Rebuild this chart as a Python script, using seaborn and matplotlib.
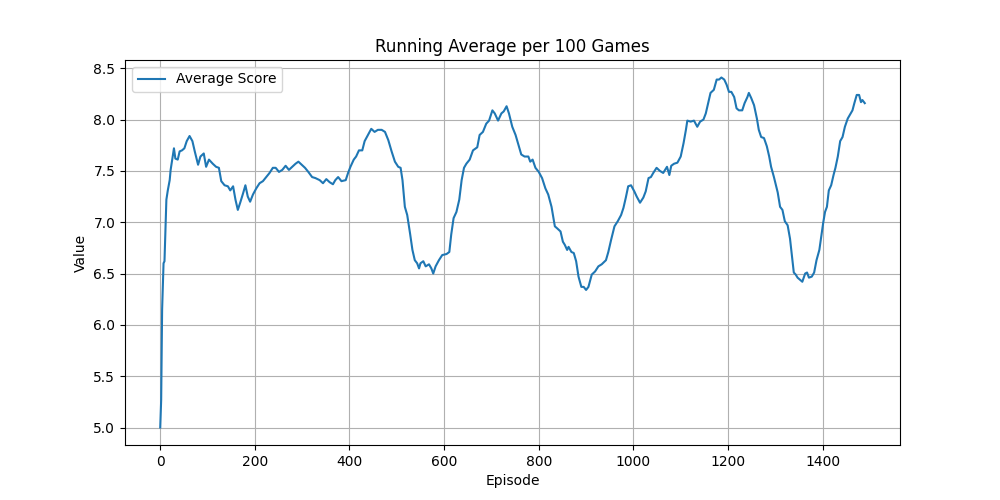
import matplotlib
matplotlib.use("Agg")
import matplotlib.pyplot as plt
import seaborn as sns
import pandas as pd

# running average values
episodes = [
    0, 2, 4, 7, 9, 13, 16, 20, 22, 25, 29, 32, 37, 41, 46, 51, 56, 62, 68, 73,
    80, 85, 92, 97, 103, 111, 118, 124, 129, 136, 143, 148, 154, 159, 164, 169,
    175, 180, 185, 190, 196, 203, 210, 217, 224, 231, 238, 244, 251, 258, 265,
    272, 279, 286, 292, 299, 306, 313, 321, 328, 337, 344, 351, 358, 365, 370,
    376, 383, 392, 397, 402, 409, 414, 420, 427, 432, 439, 446, 453, 460, 468,
    475, 482, 489, 496, 503, 508, 512, 517, 522, 528, 533, 538, 543, 547, 550,
    556, 561, 568, 573, 577, 582, 589, 596, 605, 611, 615, 620, 626, 632, 637,
    642, 647, 654, 661, 670, 675, 682, 689, 695, 702, 707, 714, 721, 726, 732,
    737, 744, 751, 758, 763, 770, 778, 782, 787, 793, 800, 807, 814, 820, 827,
    834, 839, 846, 851, 855, 860, 863, 869, 874, 879, 884, 890, 895, 900, 905,
    912, 919, 926, 933, 942, 947, 953, 960, 967, 974, 979, 984, 989, 995, 1002,
    1007, 1014, 1021, 1026, 1032, 1037, 1042, 1049, 1056, 1063, 1071, 1076,
    1080, 1086, 1093, 1100, 1106, 1111, 1114, 1121, 1128, 1135, 1141, 1148,
    1153, 1158, 1163, 1170, 1176, 1181, 1186, 1192, 1197, 1202, 1207, 1213,
    1218, 1223, 1230, 1235, 1241, 1244, 1249, 1255, 1261, 1265, 1270, 1276,
    1282, 1287, 1291, 1297, 1305, 1310, 1315, 1320, 1326, 1331, 1335, 1339,
    1343, 1347, 1352, 1357, 1363, 1367, 1371, 1377, 1382, 1387, 1393, 1396,
    1401, 1405, 1409, 1413, 1418, 1423, 1427, 1432, 1437, 1442, 1447, 1453,
    1458, 1463, 1467, 1472, 1477, 1481, 1484, 1489,
]
avg_score = [
    5.00, 5.27, 6.15, 6.60, 6.62, 7.22, 7.31, 7.41, 7.51, 7.60, 7.72, 7.62,
    7.61, 7.69, 7.70, 7.72, 7.79, 7.84, 7.79, 7.69, 7.56, 7.64, 7.67, 7.54,
    7.61, 7.57, 7.54, 7.53, 7.40, 7.36, 7.35, 7.31, 7.35, 7.22, 7.12, 7.19,
    7.28, 7.36, 7.25, 7.20, 7.27, 7.33, 7.38, 7.40, 7.44, 7.48, 7.53, 7.53,
    7.49, 7.51, 7.55, 7.51, 7.54, 7.57, 7.59, 7.56, 7.53, 7.49, 7.44, 7.43,
    7.41, 7.38, 7.42, 7.39, 7.37, 7.41, 7.44, 7.40, 7.41, 7.48, 7.54, 7.61,
    7.64, 7.70, 7.70, 7.79, 7.85, 7.91, 7.88, 7.90, 7.90, 7.88, 7.80, 7.69,
    7.59, 7.54, 7.53, 7.41, 7.15, 7.07, 6.89, 6.73, 6.63, 6.60, 6.55, 6.60,
    6.62, 6.57, 6.59, 6.55, 6.50, 6.57, 6.63, 6.68, 6.69, 6.71, 6.88, 7.04,
    7.10, 7.22, 7.41, 7.53, 7.57, 7.61, 7.70, 7.73, 7.85, 7.88, 7.96, 7.99,
    8.09, 8.06, 7.99, 8.06, 8.08, 8.13, 8.06, 7.93, 7.85, 7.74, 7.66, 7.64,
    7.64, 7.59, 7.61, 7.53, 7.49, 7.43, 7.33, 7.27, 7.15, 6.96, 6.94, 6.91,
    6.81, 6.78, 6.73, 6.76, 6.71, 6.70, 6.62, 6.47, 6.37, 6.37, 6.34, 6.37,
    6.49, 6.52, 6.57, 6.59, 6.63, 6.71, 6.83, 6.96, 7.01, 7.07, 7.14, 7.24,
    7.35, 7.36, 7.30, 7.25, 7.19, 7.24, 7.30, 7.43, 7.44, 7.48, 7.53, 7.50,
    7.48, 7.54, 7.46, 7.55, 7.57, 7.58, 7.64, 7.77, 7.90, 7.99, 7.98, 7.99,
    7.93, 7.98, 8.00, 8.06, 8.16, 8.26, 8.29, 8.39, 8.39, 8.41, 8.39, 8.34,
    8.27, 8.27, 8.22, 8.11, 8.09, 8.09, 8.16, 8.22, 8.26, 8.21, 8.14, 8.01,
    7.90, 7.83, 7.82, 7.74, 7.64, 7.54, 7.44, 7.29, 7.15, 7.12, 7.01, 6.97,
    6.84, 6.67, 6.51, 6.49, 6.46, 6.44, 6.42, 6.50, 6.51, 6.46, 6.47, 6.51,
    6.63, 6.73, 6.83, 6.99, 7.10, 7.15, 7.31, 7.36, 7.46, 7.53, 7.64, 7.79,
    7.83, 7.93, 8.01, 8.05, 8.09, 8.16, 8.24, 8.24, 8.17, 8.19, 8.16,
]

df = pd.DataFrame({'Episode': episodes, 'Value': avg_score})

plt.figure(figsize=(10, 5), dpi=100)
sns.lineplot(data=df, x='Episode', y='Value', label='Average Score',
             estimator=None, sort=False, color='#1f77b4', linewidth=1.5)
plt.title('Running Average per 100 Games')
plt.xlabel('Episode')
plt.ylabel('Value')
plt.legend(loc='upper left')
plt.grid(True)
plt.savefig('out.png', dpi=100)
